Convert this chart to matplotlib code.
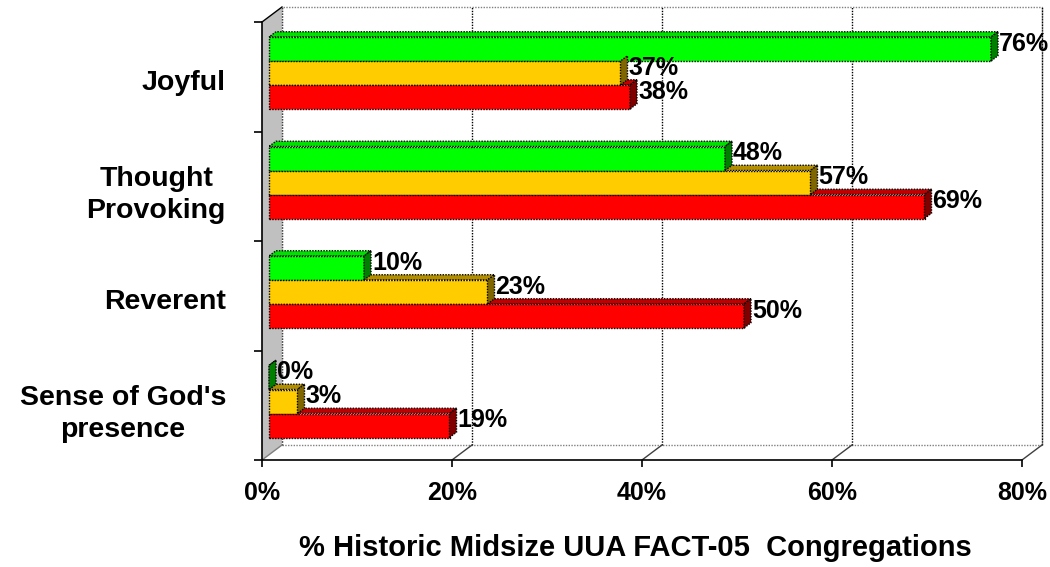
"""
3D-style horizontal bar chart: Historic Midsize UUA FACT-05 congregations
"""
import matplotlib
matplotlib.use("Agg")
import matplotlib.pyplot as plt
import numpy as np

plt.rcParams["font.family"] = ["Liberation Sans", "DejaVu Sans"]
plt.rcParams["font.weight"] = "bold"

# Data (bottom to top)
categories = ["Sense of God's\npresence", "Reverent", "Thought\nProvoking", "Joyful"]
green_vals = [0, 10, 48, 76]
yellow_vals = [3, 23, 57, 37]
red_vals = [19, 50, 69, 38]
x_ticks = [0, 20, 40, 60, 80]

series = [
    # values, front colour, top colour, side colour, offset in bar units
    (green_vals, "#00ff00", "#00e000", "#007f00", 1),
    (yellow_vals, "#ffcc00", "#b38f00", "#806600", 0),
    (red_vals, "#ff0000", "#c00000", "#800000", -1),
]

# Geometry (axes y units = pixels, x units = percent)
W, H = 1050, 567
AX_L, AX_R, AX_T, AX_B = 262, 1022, 22, 460
PX = (AX_R - AX_L) / 80.0           # pixels per percent
DX = 20 / PX                         # depth offset in x (percent units)
DY = 15                              # depth offset in y (pixel units)
GROUP = (AX_B - AX_T) / len(categories)
BAR_H = 24
D_FRONT, D_BACK = 0.35, 0.7

fig = plt.figure(figsize=(W / 100, H / 100), dpi=100)
ax = fig.add_axes([AX_L / W, 1 - AX_B / H, (AX_R - AX_L) / W, (AX_B - AX_T) / H])
ax.set_xlim(0, 80)
ax.set_ylim(0, AX_B - AX_T)
ax.patch.set_alpha(0)

top = AX_B - AX_T
dot = (0, (1, 1))

# ==========================================================
# Walls and floor
# ==========================================================
# back wall
ax.fill([DX, 80 + DX, 80 + DX, DX], [DY, DY, top + DY, top + DY],
        facecolor="white", edgecolor="#808080", lw=1, ls=dot, clip_on=False, zorder=0)
# side wall
ax.fill([0, DX, DX, 0], [0, DY, top + DY, top], facecolor="#c0c0c0",
        edgecolor="none", clip_on=False, zorder=1)
ax.plot([0, DX], [top, top + DY], color="black", lw=1, clip_on=False, zorder=2)
ax.plot([DX, DX], [DY, top + DY], color="#404040", lw=1, ls=dot, clip_on=False, zorder=2)
# floor
ax.plot([0, DX], [0, DY], color="#808080", lw=1, clip_on=False, zorder=2)
for xt in x_ticks[1:]:
    ax.plot([xt, xt + DX], [0, DY], color="#404040", lw=1, clip_on=False, zorder=2)
    ax.plot([xt + DX, xt + DX], [DY, top + DY], color="black", lw=1, ls=dot,
            clip_on=False, zorder=1)

# ==========================================================
# Bars
# ==========================================================
centers = GROUP / 2 + GROUP * np.arange(len(categories))
fx, fy = D_FRONT * DX, D_FRONT * DY - 1.5
bx, by = D_BACK * DX, D_BACK * DY - 1.5

for vals, c_front, c_top, c_side, k in series:
    yc = centers + k * BAR_H
    ax.barh(yc + fy, vals, height=BAR_H, left=fx, color=c_front,
            edgecolor="black", lw=1, ls=dot, zorder=5)
    for v, y in zip(vals, yc):
        y0, y1 = y - BAR_H / 2, y + BAR_H / 2
        # top face
        ax.fill([fx, v + fx, v + bx, bx], [y1 + fy, y1 + fy, y1 + by, y1 + by],
                facecolor=c_top, edgecolor="black", lw=1, ls=dot, zorder=4, clip_on=False)
        # side face
        ax.fill([v + fx, v + fx, v + bx, v + bx], [y0 + fy, y1 + fy, y1 + by, y0 + by],
                facecolor=c_side, edgecolor="black", lw=1, ls=dot, zorder=6, clip_on=False)
        ax.text(v + bx + 1 / PX, y + by, f"{v}%", ha="left", va="center",
                fontsize=18, fontweight="bold", zorder=7, clip_on=False)

# ==========================================================
# Axes
# ==========================================================
for s in ["top", "right"]:
    ax.spines[s].set_visible(False)
ax.spines["left"].set_color("black")
ax.spines["left"].set_linewidth(1.2)
ax.spines["left"].set_zorder(3)
ax.spines["bottom"].set_linestyle(dot)
ax.spines["bottom"].set_linewidth(1.2)

ax.set_xticks(x_ticks)
ax.set_xticklabels([f"{t}%" for t in x_ticks], fontsize=18, fontweight="bold")
ax.tick_params(axis="x", length=5, width=1.2, pad=10)

ax.set_yticks(GROUP * np.arange(len(categories) + 1))
ax.set_yticklabels([])
ax.set_yticks(centers - 3, minor=True)
ax.set_yticklabels(categories, minor=True, fontsize=20.5, fontweight="bold",
                   linespacing=1.3)
for lab in ax.get_yticklabels(minor=True):
    lab.set_multialignment("center")
ax.tick_params(axis="y", which="major", length=6, width=1.2)
ax.tick_params(axis="y", which="minor", length=0, pad=26)

fig.text(635 / W, 1 - 548 / H, "% Historic Midsize UUA FACT-05  Congregations",
         ha="center", va="center", fontsize=21, fontweight="bold")

fig.savefig("out.png", dpi=100)
